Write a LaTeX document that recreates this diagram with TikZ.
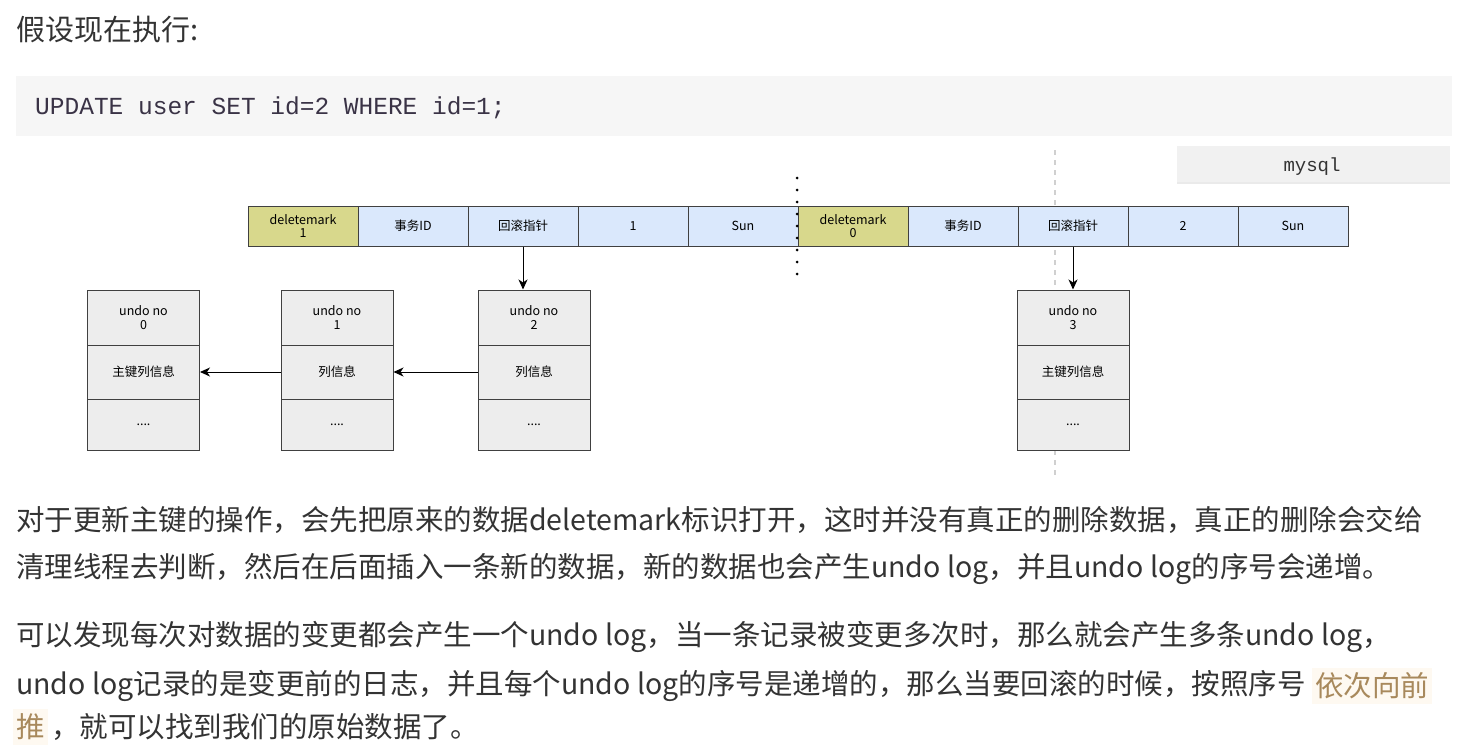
\documentclass[tikz,border=0pt]{standalone}
\usepackage{fontspec}
\setmainfont{Noto Sans CJK SC}
\setmonofont{Liberation Mono}
\usetikzlibrary{arrows.meta}
\definecolor{txt}{HTML}{333333}
\definecolor{codetxt}{HTML}{3A3346}
\definecolor{codebg}{HTML}{F6F6F6}
\definecolor{markfill}{HTML}{D8D88C}
\definecolor{idfill}{HTML}{DAE8FC}
\definecolor{undofill}{HTML}{EDEDED}
\definecolor{hltxt}{HTML}{A8895C}
\definecolor{hlbg}{HTML}{FEF9F1}
\definecolor{guide}{HTML}{D0D0D0}
\tikzset{
  cell/.style={draw=black!75,line width=1pt,fill=idfill,minimum width=110pt,minimum height=40pt,inner sep=0pt,align=center,font=\fontsize{12.5}{13.5}\selectfont},
  markcell/.style={cell,fill=markfill},
  undorow/.style={draw=black!75,line width=1pt,fill=undofill,minimum width=112pt,inner sep=0pt,align=center,font=\fontsize{12.5}{13.5}\selectfont},
  para/.style={anchor=west,inner sep=0pt,text=txt,font=\fontsize{28.5}{32}\selectfont},
  hlword/.style={para,text=hltxt,fill=hlbg,inner xsep=3pt,inner ysep=5pt},
  link/.style={-{Stealth[length=10pt,width=9pt,inset=3pt]},line width=1pt,black}
}
\begin{document}
\begin{tikzpicture}[x=1pt,y=-1pt]
\useasboundingbox (0,0) rectangle (1461,755);
% heading and statement
\node[para,font=\fontsize{29}{32}\selectfont] (title) at (16,30) {假设现在执行:};
\node[fill=codebg,anchor=north west,minimum width=1436pt,minimum height=60pt,inner sep=0pt] (codebox) at (16,76) {};
\node[anchor=west,inner sep=0pt,text=codetxt,font=\ttfamily\fontsize{24.5}{28}\selectfont] (code) at (35,108) {UPDATE user SET id=2 WHERE id=1;};
\node[fill=codebg!95!black,minimum width=273pt,minimum height=38pt,inner sep=0pt] (tagshadow) at (1313.5,165) {};
\node[fill=codebg!98!black,minimum width=273pt,minimum height=36pt,inner sep=0pt] (tag) at (1313.5,164) {};
\node[inner sep=0pt,text=txt,font=\ttfamily\fontsize{19}{22}\selectfont] (tagtext) at (1312,167) {mysql};
% guide line behind the new record
\coordinate (gtop) at (1055,150);
\coordinate (gbot) at (1055,475);
\draw[guide,line width=1.5pt,dash pattern=on 5pt off 5pt] (gtop) -- (gbot);
% old and new record
\foreach \i/\t in {1/事务ID,2/回滚指针,3/1,4/Sun,6/事务ID,7/回滚指针,8/2,9/Sun}
  \node[cell] (r\i) at (303+110*\i,226) {\t};
\node[markcell] (r0) at (303,226) {deletemark\\1};
\node[markcell] (r5) at (853,226) {deletemark\\0};
% separator
\coordinate (stop) at (797,178);
\coordinate (sbot) at (797,274);
\draw[line width=3pt,line cap=round,dash pattern=on 0pt off 12pt] (stop) -- (sbot);
% undo log chain
\foreach \n/\x/\t in {0/143.5/主键列信息,1/337/列信息,2/534/列信息,3/1073/主键列信息} {
  \node[undorow,minimum height=55pt] (u\n a) at (\x,317.5) {undo no\\\n};
  \node[undorow,minimum height=54pt] (u\n b) at (\x,372) {\t};
  \node[undorow,minimum height=51pt] (u\n c) at (\x,424.5) {....};
}
\draw[link] (r2.south) -- (r2.south |- u2a.north);
\draw[link] (r7.south) -- (r7.south |- u3a.north);
\draw[link] (u2b.west) -- (u1b.east);
\draw[link] (u1b.west) -- (u0b.east);
% explanation
\node[para] (p1a) at (16,520) {对于更新主键的操作，会先把原来的数据deletemark标识打开，这时并没有真正的删除数据，真正的删除会交给};
\node[para] (p1b) at (16,569) {清理线程去判断，然后在后面插入一条新的数据，新的数据也会产生undo log，并且undo log的序号会递增。};
\node[para] (p2a) at (16,637) {可以发现每次对数据的变更都会产生一个undo log，当一条记录被变更多次时，那么就会产生多条undo log，};
\node[para] (p2b) at (16,686) {undo log记录的是变更前的日志，并且每个undo log的序号是递增的，那么当要回滚的时候，按照序号};
\node[hlword,anchor=west] (hl1) at ([xshift=6pt]p2b.east) {依次向前};
\node[hlword] (hl2) at (13,727) {推};
\node[para] (p2c) at ([xshift=3pt]hl2.east) {，就可以找到我们的原始数据了。};
\end{tikzpicture}
\end{document}
